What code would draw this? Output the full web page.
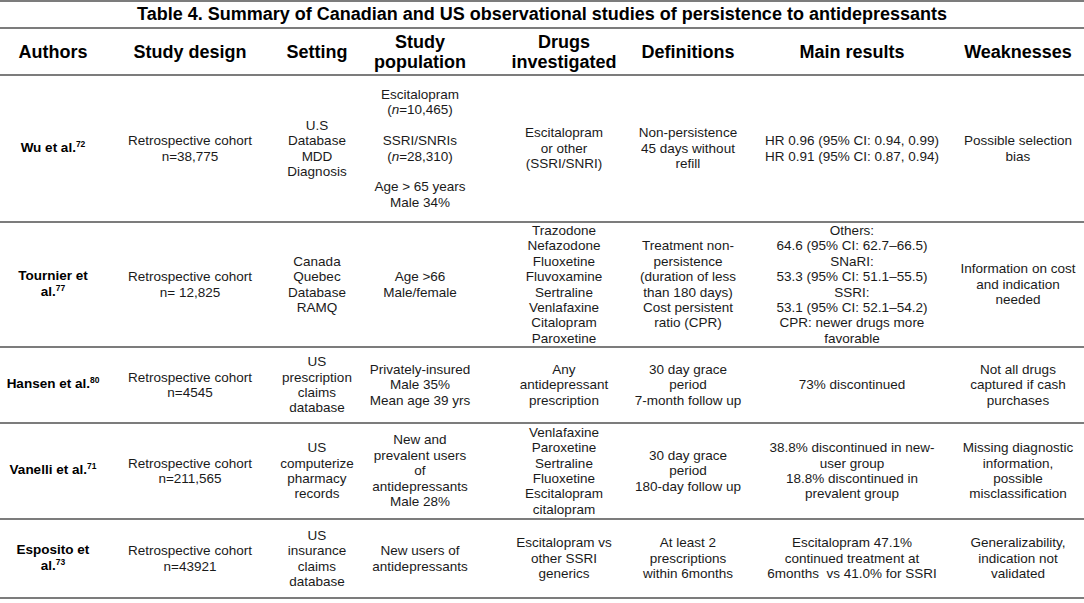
<!DOCTYPE html>
<html>
<head>
<meta charset="utf-8">
<script src="https://cdn.jsdelivr.net/npm/chart.js"></script>
<style>
    html, body { margin: 0; padding: 0; background: #fff; }
    body { width: 1084px; font-family: Arial, "Liberation Sans", sans-serif; color: #1a1a1a; }
    #tbl { border-top: 2px solid #7c7c7c; }
    .row { display: flex; box-sizing: border-box; border-bottom: 2px solid #7c7c7c; }
    .cell { display: flex; align-items: center; justify-content: center; overflow: visible; }
    .inner { margin: 0 -40px; text-align: center; white-space: pre; }
    .title { font-weight: bold; font-size: 18px; width: 1084px; text-align: center; color: #000; }
    .head .inner { font-weight: bold; font-size: 18px; line-height: 20px; color: #000; }
    .body .inner { font-size: 13.5px; line-height: 15.4px; }
    .auth { font-weight: bold; color: #000; }
    sup { font-size: 8.5px; vertical-align: baseline; position: relative; top: -5px; }
</style>
</head>
<body>
<div id="tbl"></div>
<script>
// table content
const title = 'Table 4. Summary of Canadian and US observational studies of persistence to antidepressants';
const headers = ['Authors', 'Study design', 'Setting', 'Study\npopulation', 'Drugs\ninvestigated', 'Definitions', 'Main results', 'Weaknesses'];

const authors = ['Wu et al.', 'Tournier et\nal.', 'Hansen et al.', 'Vanelli et al.', 'Esposito et\nal.'];
const refs = ['72', '77', '80', '71', '73'];
const studyDesign = [
    'Retrospective cohort\nn=38,775',
    'Retrospective cohort\nn= 12,825',
    'Retrospective cohort\nn=4545',
    'Retrospective cohort\nn=211,565',
    'Retrospective cohort\nn=43921'
];
const setting = [
    'U.S\nDatabase\nMDD\nDiagnosis',
    'Canada\nQuebec\nDatabase\nRAMQ',
    'US\nprescription\nclaims\ndatabase',
    'US\ncomputerize\npharmacy\nrecords',
    'US\ninsurance\nclaims\ndatabase'
];
const population = [
    'Escitalopram\n(n=10,465)\n\nSSRI/SNRIs\n(n=28,310)\n\nAge > 65 years\nMale 34%',
    'Age >66\nMale/female',
    'Privately-insured\nMale 35%\nMean age 39 yrs',
    'New and\nprevalent users\nof\nantidepressants\nMale 28%',
    'New users of\nantidepressants'
];
const drugs = [
    'Escitalopram\nor other\n(SSRI/SNRI)',
    'Trazodone\nNefazodone\nFluoxetine\nFluvoxamine\nSertraline\nVenlafaxine\nCitalopram\nParoxetine',
    'Any\nantidepressant\nprescription',
    'Venlafaxine\nParoxetine\nSertraline\nFluoxetine\nEscitalopram\ncitalopram',
    'Escitalopram vs\nother SSRI\ngenerics'
];
const definitions = [
    'Non-persistence\n45 days without\nrefill',
    'Treatment non-\npersistence\n(duration of less\nthan 180 days)\nCost persistent\nratio (CPR)',
    '30 day grace\nperiod\n7-month follow up',
    '30 day grace\nperiod\n180-day follow up',
    'At least 2\nprescriptions\nwithin 6months'
];
const results = [
    'HR 0.96 (95% CI: 0.94, 0.99)\nHR 0.91 (95% CI: 0.87, 0.94)',
    'Others:\n64.6 (95% CI: 62.7–66.5)\nSNaRI:\n53.3 (95% CI: 51.1–55.5)\nSSRI:\n53.1 (95% CI: 52.1–54.2)\nCPR: newer drugs more\nfavorable',
    '73% discontinued',
    '38.8% discontinued in new-\nuser group\n18.8% discontinued in\nprevalent group',
    'Escitalopram 47.1%\ncontinued treatment at\n6months  vs 41.0% for SSRI'
];
const weaknesses = [
    'Possible selection\nbias',
    'Information on cost\nand indication\nneeded',
    'Not all drugs\ncaptured if cash\npurchases',
    'Missing diagnostic\ninformation,\npossible\nmisclassification',
    'Generalizability,\nindication not\nvalidated'
];

// layout
const colWidths = [106, 168, 86, 120, 168, 80, 248, 84, 24];
const titleHeight = 27;
const headHeight = 47;
const rowHeights = [147, 125, 76, 96, 79];

function esc(s) {
    return s.replace(/&/g, '&amp;').replace(/</g, '&lt;').replace(/>/g, '&gt;');
}

function makeRow(cls, height, cells) {
    var row = document.createElement('div');
    row.className = 'row ' + cls;
    row.style.height = height + 'px';
    colWidths.forEach(function (w, i) {
        var cell = document.createElement('div');
        cell.className = 'cell';
        cell.style.width = w + 'px';
        var inner = document.createElement('div');
        inner.className = 'inner';
        inner.innerHTML = cells[i] || '';
        cell.appendChild(inner);
        row.appendChild(cell);
    });
    return row;
}

var tbl = document.getElementById('tbl');

var titleRow = document.createElement('div');
titleRow.className = 'row';
titleRow.style.height = titleHeight + 'px';
var titleCell = document.createElement('div');
titleCell.className = 'cell title';
titleCell.textContent = title;
titleRow.appendChild(titleCell);
tbl.appendChild(titleRow);

tbl.appendChild(makeRow('head', headHeight, headers.map(esc)));

for (var i = 0; i < authors.length; i++) {
    var cells = [
        '<span class="auth">' + esc(authors[i]) + '<sup>' + refs[i] + '</sup></span>',
        esc(studyDesign[i]),
        esc(setting[i]),
        esc(population[i]).replace(/\(n=/g, '(<i>n</i>='),
        esc(drugs[i]),
        esc(definitions[i]),
        esc(results[i]),
        esc(weaknesses[i])
    ];
    tbl.appendChild(makeRow('body', rowHeights[i], cells));
}
</script>
</body>
</html>
